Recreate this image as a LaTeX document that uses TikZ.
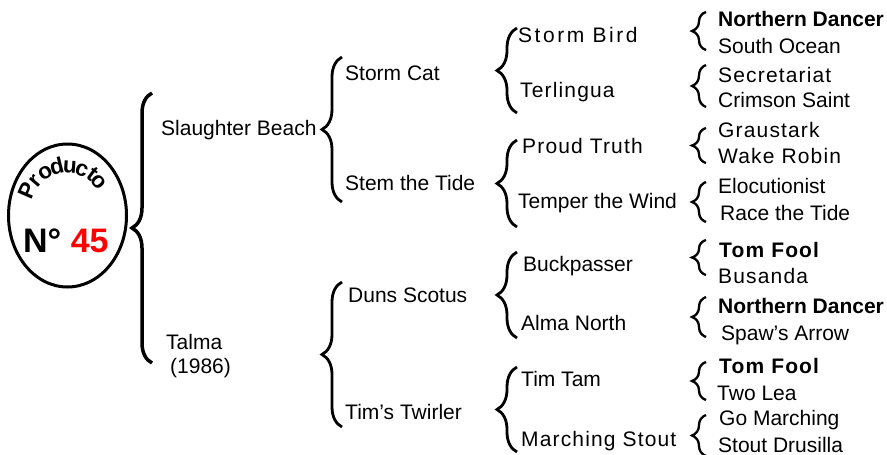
\documentclass[tikz,border=0pt]{standalone}
\usepackage{fontspec}
\setmainfont{Liberation Sans}
\newfontfamily\spaceda[LetterSpace=5.5]{Liberation Sans}
\newfontfamily\spacedb[LetterSpace=12]{Liberation Sans}
\usetikzlibrary{decorations.pathreplacing}
\usetikzlibrary{shapes.geometric}
\usetikzlibrary{calc}

\begin{document}
\begin{tikzpicture}[x=1pt,y=-1pt,
    every node/.style={inner sep=0pt, anchor=base west, font=\fontsize{21}{25}\selectfont},
    brc/.style={decorate, decoration={brace, amplitude=#1}}]
        \useasboundingbox (0,0) rectangle (887,455);
        %%%BADGE%%%
        \node[draw, ellipse, line width=3pt, anchor=center, minimum width=118pt, minimum height=143pt] (badge) at (67.5,215.5) {};
        %curved title
        \coordinate (arcc) at (67,208);
        \foreach \ch/\ang [count=\i] in {P/156.5, r/139.5, o/122, d/104, u/86, c/69, t/53, o/40}
          \node[anchor=base, rotate=\ang-90, font=\fontsize{22.5}{24}\selectfont\bfseries] (pl\i) at ($(arcc)+(-\ang:35)$) {\ch};
        \node[font=\fontsize{34}{36}\selectfont\bfseries] (numero) at (23,252) {N° \textcolor{red}{45}};
        %%%BRACES%%%
        %first and second generation
        \draw[brc=20, line width=3.5pt] (152,363)--(152,93);
        \foreach \yb/\yt in {202/57, 427/282}
          \draw[brc=20, line width=2.8pt] (342,\yb)--(342,\yt);
        %third generation
        \foreach \yb/\yt in {113/28, 227/140, 338/252, 452/367}
          \draw[brc=20, line width=2.8pt] (517,\yb)--(517,\yt);
        %fourth generation
        \foreach \yb/\yt in {50/12, 107/65, 163/128, 222/182, 275/240, 337/297, 400/362, 456/415}
          \draw[brc=14, line width=2.3pt] (706,\yb)--(706,\yt);
        %%%NAMES%%%
        %sire and dam
        \node (slaughter) at (161,135) {Slaughter Beach};
        \node (talma) at (166,349) {Talma};
        \node (talmayear) at (170,373) {(1986)};
        %grandparents
        \node (stormcat) at (345,80) {Storm Cat};
        \node (stemtide) at (345,190) {Stem the Tide};
        \node (dunsscotus) at (348,302) {Duns Scotus};
        \node (timstwirler) at (345,419) {Tim’s Twirler};
        %great-grandparents
        \node (stormbird) at (518,42) {\spacedb Storm Bird};
        \node (terlingua) at (520,97) {\spaceda Terlingua};
        \node (proudtruth) at (522,153) {\spaceda Proud Truth};
        \node (temperwind) at (518,208) {Temper the Wind};
        \node (buckpasser) at (523,271) {Buckpasser};
        \node (almanorth) at (521,330) {Alma North};
        \node (timtam) at (521,386) {Tim Tam};
        \node (marchstout) at (521,446) {\spaceda Marching Stout};
        %great-great-grandparents
        \node (ndancera) at (718,27) {\bfseries Northern Dancer};
        \node (southocean) at (718,53) {South Ocean};
        \node (secretariat) at (718,82) {\spaceda Secretariat};
        \node (crimson) at (718,107) {Crimson Saint};
        \node (graustark) at (718,137) {\spaceda Graustark};
        \node (wakerobin) at (718,163) {\spaceda Wake Robin};
        \node (elocution) at (718,193) {Elocutionist};
        \node (racetide) at (720,220) {Race the Tide};
        \node (tomfoola) at (719,257) {\spaceda\bfseries Tom Fool};
        \node (busanda) at (718,283) {\spaceda Busanda};
        \node (ndancerb) at (718,313) {\bfseries Northern Dancer};
        \node (spaw) at (721,340) {Spaw’s Arrow};
        \node (tomfoolb) at (719,373) {\spaceda\bfseries Tom Fool};
        \node (twolea) at (717,400) {Two Lea};
        \node (gomarch) at (719,425) {Go Marching};
        \node (drusilla) at (718,452) {Stout Drusilla};
    \end{tikzpicture}
\end{document}
